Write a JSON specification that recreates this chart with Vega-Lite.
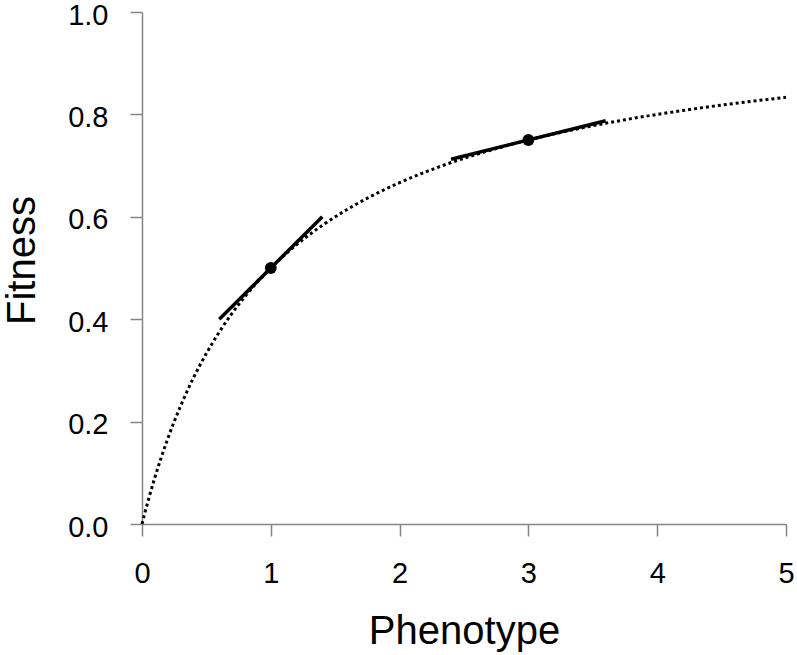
{
  "$schema": "https://vega.github.io/schema/vega-lite/v6.json",
  "autosize": {"type": "none"},
  "padding": {"left": 142, "top": 12, "right": 11, "bottom": 131},
  "width": 644,
  "height": 512,
  "background": "white",
  "config": {
    "view": {"stroke": null},
    "font": "Liberation Sans",
    "axis": {
      "grid": false,
      "labelFlush": false,
      "domainColor": "#868686",
      "domainWidth": 1.5,
      "tickColor": "#868686",
      "tickWidth": 1.5,
      "tickSize": 12,
      "labelFont": "Liberation Sans",
      "labelFontSize": 29,
      "labelColor": "black",
      "titleFont": "Liberation Sans",
      "titleFontSize": 40,
      "titleFontWeight": "normal",
      "titleColor": "black"
    }
  },
  "datasets": {
    "curve": [
      {"x": 0, "y": 0}, {"x": 0.02, "y": 0.0196}, {"x": 0.05, "y": 0.0476},
      {"x": 0.1, "y": 0.0909}, {"x": 0.15, "y": 0.1304}, {"x": 0.2, "y": 0.1667},
      {"x": 0.25, "y": 0.2}, {"x": 0.3, "y": 0.2308}, {"x": 0.4, "y": 0.2857},
      {"x": 0.5, "y": 0.3333}, {"x": 0.6, "y": 0.375}, {"x": 0.7, "y": 0.4118},
      {"x": 0.8, "y": 0.4444}, {"x": 0.9, "y": 0.4737}, {"x": 1.0, "y": 0.5},
      {"x": 1.2, "y": 0.5455}, {"x": 1.4, "y": 0.5833}, {"x": 1.6, "y": 0.6154},
      {"x": 1.8, "y": 0.6429}, {"x": 2.0, "y": 0.6667}, {"x": 2.25, "y": 0.6923},
      {"x": 2.5, "y": 0.7143}, {"x": 2.75, "y": 0.7333}, {"x": 3.0, "y": 0.75},
      {"x": 3.25, "y": 0.7647}, {"x": 3.5, "y": 0.7778}, {"x": 3.75, "y": 0.7895},
      {"x": 4.0, "y": 0.8}, {"x": 4.25, "y": 0.8095}, {"x": 4.5, "y": 0.8182},
      {"x": 4.75, "y": 0.8261}, {"x": 5.0, "y": 0.8333}
    ],
    "tangent": [
      {"x": 0.6, "y": 0.4, "g": "a"}, {"x": 1.4, "y": 0.6, "g": "a"},
      {"x": 2.4, "y": 0.7125, "g": "b"}, {"x": 3.6, "y": 0.7875, "g": "b"}
    ],
    "points": [
      {"x": 1, "y": 0.5}, {"x": 3, "y": 0.75}
    ]
  },
  "encoding": {
    "x": {
      "field": "x", "type": "quantitative",
      "scale": {"domain": [0, 5], "nice": false, "zero": false},
      "axis": {
        "title": "Phenotype", "values": [0, 1, 2, 3, 4, 5], "format": "d",
        "labelBaseline": "alphabetic", "labelPadding": 46,
        "titleBaseline": "alphabetic", "titleY": 119, "titleX": 322
      }
    },
    "y": {
      "field": "y", "type": "quantitative",
      "scale": {"domain": [0, 1], "nice": false, "zero": false},
      "axis": {
        "title": "Fitness", "values": [0, 0.2, 0.4, 0.6, 0.8, 1.0], "format": ".1f",
        "labelPadding": 22, "labelBaseline": "middle", "labelOffset": 3,
        "titleAngle": -90, "titleBaseline": "alphabetic", "titleX": -108, "titleY": 248,
        "titleAlign": "center"
      }
    }
  },
  "layer": [
    {
      "data": {"name": "curve"},
      "mark": {"type": "line", "color": "black", "strokeWidth": 3, "strokeDash": [3, 3], "interpolate": "monotone"}
    },
    {
      "data": {"name": "tangent"},
      "mark": {"type": "line", "color": "black", "strokeWidth": 3.5},
      "encoding": {"detail": {"field": "g"}}
    },
    {
      "data": {"name": "points"},
      "mark": {"type": "point", "filled": true, "color": "black", "opacity": 1, "size": 140}
    }
  ]
}
